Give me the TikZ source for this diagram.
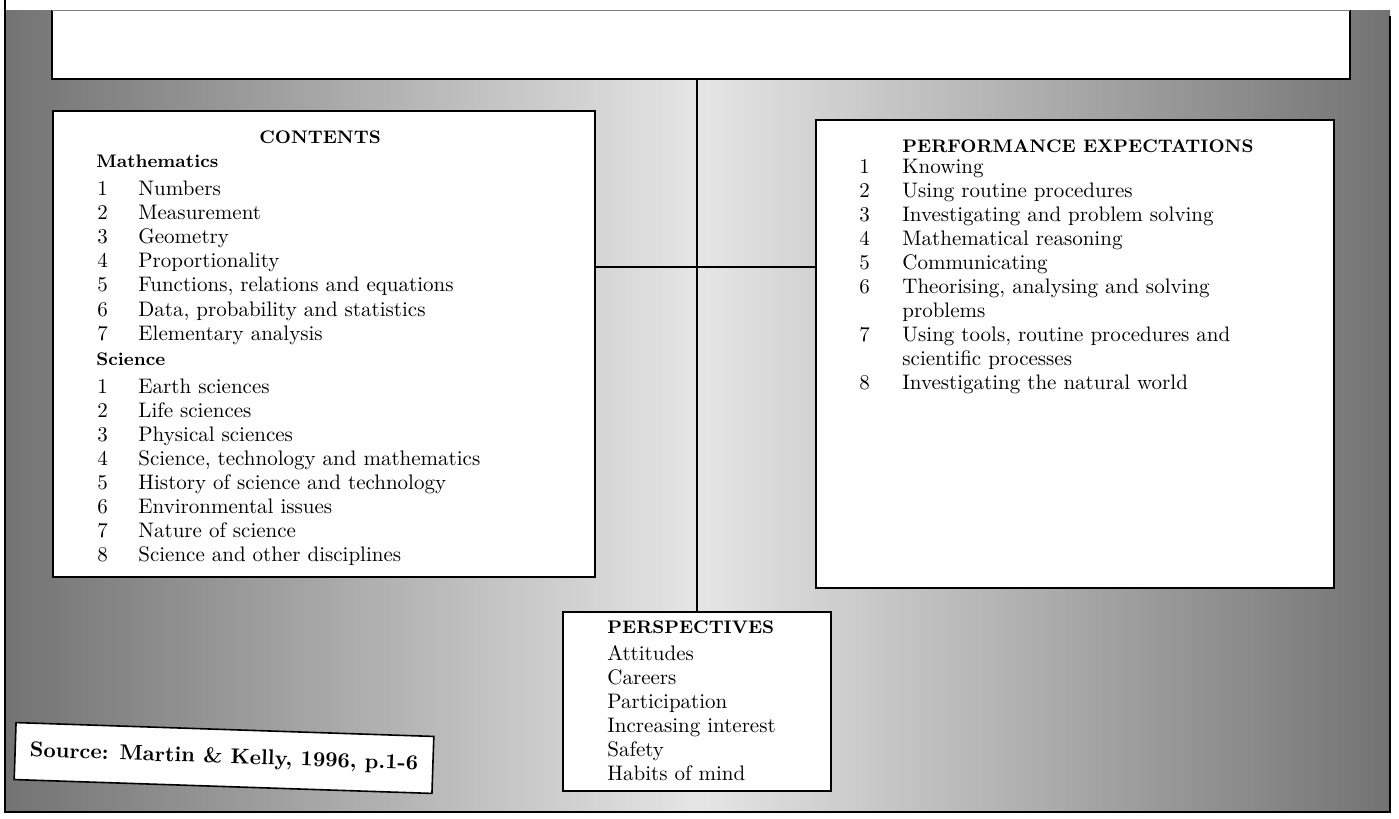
\documentclass[tikz,border=0pt]{standalone}
\begin{document}
\begin{tikzpicture}[x=0.5pt,y=-0.5pt,
  box/.style={draw=black, line width=1pt, fill=white, inner sep=0pt, anchor=north west},
  frame/.style={draw=black, line width=1.3pt},
  conn/.style={draw=black, line width=0.8pt},
  txt/.style={anchor=base west, inner sep=0pt, font=\fontsize{10.5}{12}\selectfont},
  ttl/.style={anchor=base west, inner sep=0pt, font=\fontsize{9.1}{12}\selectfont\bfseries},
  srcfont/.style={font=\fontsize{10.7}{12}\selectfont\bfseries}]
\useasboundingbox (0,0) rectangle (1399,819);
% background texture (approximated by grey shading), in absolute pt units
\shade[left color=black!55, right color=black!10] (2.5pt,-5pt) rectangle (348.75pt,-406pt);
\shade[left color=black!10, right color=black!55] (348.75pt,-5pt) rectangle (695pt,-406pt);
% top white panel
\node[box, draw=none, minimum width=648pt, minimum height=33.5pt] (top) at (52,10) {};
\draw[frame] (top.north west) -- (top.south west) -- (top.south east) -- (top.north east);
\draw[gray, line width=0.4pt] (top.north west) -- (top.north east);
% outer frame
\draw[frame] (5,0) -- (5,812) -- (1390,812) -- (1390,16);
% boxes
\node[box, minimum width=271pt, minimum height=233pt] (contents) at (52,110) {};
\node[box, minimum width=259pt, minimum height=234pt] (perf) at (815,119) {};
\node[box, minimum width=134pt, minimum height=89.5pt] (persp) at (562,611) {};
\node[draw=black, line width=0.8pt, fill=white, minimum width=209pt, minimum height=28.5pt,
      rotate=-1.9, inner sep=0pt, srcfont] (source) at (224,758) {Source: Martin \& Kelly, 1996, p.1-6};
% connectors
\coordinate (hl) at (697,267);
\draw[conn] (persp.north) -- (persp.north |- top.south);
\draw[conn] (hl -| contents.east) -- (hl -| perf.west);
% CONTENTS
\node[ttl, anchor=base] (ctitle) at (320,143) {CONTENTS};
\node[ttl] (cmath) at (96,167) {Mathematics};
\foreach \n/\t [count=\k from 0] in {1/Numbers, 2/Measurement, 3/Geometry, 4/Proportionality,
   5/{Functions, relations and equations}, 6/{Data, probability and statistics}, 7/Elementary analysis} {
  \node[txt] (mn\n) at (97,195+24.2*\k) {\n};
  \node[txt] (mt\n) at (138,195+24.2*\k) {\t};
}
\node[ttl] (csci) at (96,365) {Science};
\foreach \n/\t [count=\k from 0] in {1/Earth sciences, 2/Life sciences, 3/Physical sciences,
   4/{Science, technology and mathematics}, 5/History of science and technology,
   6/Environmental issues, 7/Nature of science, 8/Science and other disciplines} {
  \node[txt] (sn\n) at (97,393+24.1*\k) {\n};
  \node[txt] (st\n) at (138,393+24.1*\k) {\t};
}
% PERFORMANCE EXPECTATIONS
\node[ttl] (ptitle) at (902,152) {PERFORMANCE EXPECTATIONS};
\foreach \n/\t [count=\k from 0] in {1/Knowing, 2/Using routine procedures,
   3/Investigating and problem solving, 4/Mathematical reasoning, 5/Communicating,
   6/{Theorising, analysing and solving}, a/problems, 7/{Using tools, routine procedures and},
   b/scientific processes, 8/Investigating the natural world} {
  \node[txt] (pt\k) at (902,173+24.1*\k) {\t};
}
\foreach \n/\k in {1/0, 2/1, 3/2, 4/3, 5/4, 6/5, 7/7, 8/9} {
  \node[txt] (pn\n) at (859,173+24.1*\k) {\n};
}
% PERSPECTIVES
\node[ttl] (qtitle) at (607,633) {PERSPECTIVES};
\foreach \t [count=\k from 0] in {Attitudes, Careers, Participation, Increasing interest, Safety, Habits of mind} {
  \node[txt] (q\k) at (607,660+24*\k) {\t};
}
\end{tikzpicture}
\end{document}
